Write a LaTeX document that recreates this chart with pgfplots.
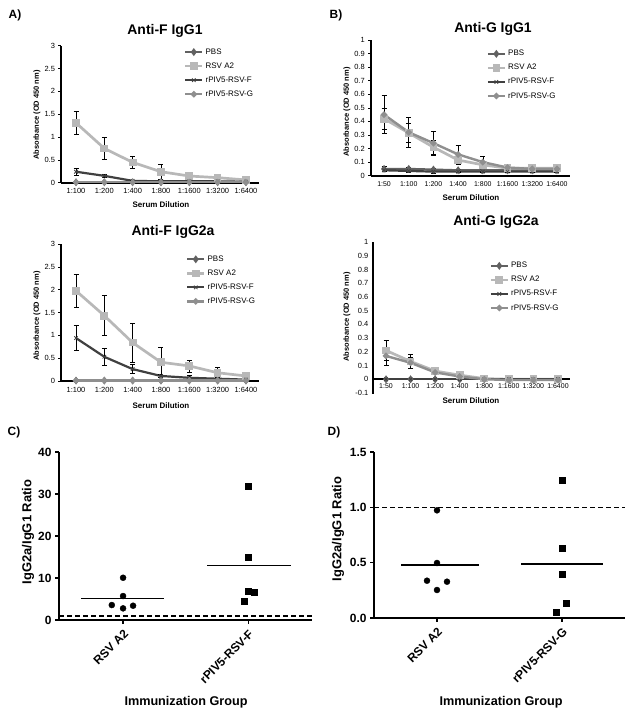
\documentclass[border=0pt]{standalone}
\usepackage{pgfplots}
\pgfplotsset{compat=1.18}
\usepackage{fontspec}
\setmainfont{Liberation Sans}

\definecolor{cPBS}{gray}{0.38}
\definecolor{cRSV}{gray}{0.72}
\definecolor{cF}{gray}{0.25}
\definecolor{cG}{gray}{0.56}

\pgfplotsset{
 elisa/.style={
  scale only axis, axis lines=left, axis line style={-, line width=1.8bp, black},
  xtick={0,...,7}, xtick style={draw=none}, ytick style={black, line width=0.6bp},
  tick align=outside, major tick length=2.5bp,
  tick label style={font=\fontsize{7.5}{8}\selectfont},
  /pgf/number format/assume math mode=true,
  legend style={draw=none, fill=none, font=\fontsize{8}{9}\selectfont, anchor=north west, row sep=3bp, inner sep=0pt},
  legend cell align=left,
  clip=false,
 },
 errs/.style={error bars/y dir=both, error bars/y explicit,
   error bars/error bar style={black, line width=0.6bp},
   error bars/error mark options={black, mark size=2.5bp, line width=0.6bp, rotate=90}},
 sPBS/.style={cPBS, line width=2.2bp, mark=diamond*, mark size=2.2bp, mark options={solid, cPBS}},
 sRSV/.style={cRSV, line width=2.7bp, mark=square*, mark size=2.5bp, mark options={solid, cRSV}},
 sF/.style={cF, line width=2.2bp, mark=x, mark size=2.5bp, mark options={solid, cF, line width=0.8bp}},
 sG/.style={cG, line width=2.4bp, mark=*, mark size=1.8bp, mark options={solid, cG}},
 ratio/.style={
  scale only axis, axis lines=left, axis line style={-, line width=1.6bp, black},
  tick align=outside, major tick length=4bp, tick style={black, line width=1.2bp},
  xtick={1,2},
  xticklabel style={rotate=45, anchor=north east, font=\bfseries\fontsize{12}{13}\selectfont},
  yticklabel style={font=\bfseries\fontsize{12}{13}\selectfont},
  /pgf/number format/assume math mode=true,
  clip=false,
 },
}

\begin{document}
\begin{tikzpicture}
\useasboundingbox (0,0) rectangle (635bp,719bp);

% ---------- Panel A top: Anti-F IgG1 ----------
\begin{axis}[elisa, at={(61bp,536.3bp)}, anchor=south west, width=198bp, height=137bp,
  xmin=-0.53, xmax=6.46, ymin=0, ymax=3, ytick={0,0.5,...,3},
  xticklabels={1:100,1:200,1:400,1:800,1:1600,1:3200,1:6400},
  legend style={at={(0.62,0.995)}}]
\addplot[sPBS] coordinates {(0,0.01)(1,0.01)(2,0.01)(3,0.01)(4,0.01)(5,0.01)(6,0.01)};
\addlegendentry{PBS}
\addplot[sRSV, errs] coordinates {(0,1.31)+-(0,0.25) (1,0.75)+-(0,0.235) (2,0.445)+-(0,0.13) (3,0.24)+-(0,0.16) (4,0.146)+-(0,0.04) (5,0.11)+-(0,0.04) (6,0.06)+-(0,0.03)};
\addlegendentry{RSV A2}
\addplot[sF, errs] coordinates {(0,0.24)+-(0,0.07) (1,0.15)+-(0,0.04) (2,0.04)+-(0,0.02) (3,0.03)+-(0,0.01) (4,0.03)+-(0,0.01) (5,0.03)+-(0,0.01) (6,0.02)+-(0,0.01)};
\addlegendentry{rPIV5-RSV-F}
\addplot[sG] coordinates {(0,0.01)(1,0.01)(2,0.01)(3,0.01)(4,0.01)(5,0.01)(6,0.01)};
\addlegendentry{rPIV5-RSV-G}
\end{axis}

% ---------- Panel A bottom: Anti-F IgG2a ----------
\begin{axis}[elisa, at={(61bp,338bp)}, anchor=south west, width=198bp, height=137bp,
  xmin=-0.53, xmax=6.46, ymin=0, ymax=3, ytick={0,0.5,...,3},
  xticklabels={1:100,1:200,1:400,1:800,1:1600,1:3200,1:6400},
  legend style={at={(0.63,0.93)}}]
\addplot[sPBS] coordinates {(0,0.01)(1,0.01)(2,0.01)(3,0.01)(4,0.01)(5,0.01)(6,0.01)};
\addlegendentry{PBS}
\addplot[sRSV, errs] coordinates {(0,1.975)+-(0,0.37) (1,1.43)+-(0,0.44) (2,0.84)+-(0,0.42) (3,0.41)+-(0,0.32) (4,0.33)+-(0,0.13) (5,0.18)+-(0,0.11) (6,0.11)+-(0,0.03)};
\addlegendentry{RSV A2}
\addplot[sF, errs] coordinates {(0,0.94)+-(0,0.27) (1,0.53)+-(0,0.18) (2,0.26)+-(0,0.10) (3,0.11)+-(0,0.04) (4,0.07)+-(0,0.05) (5,0.05)+-(0,0.02) (6,0.03)+-(0,0.01)};
\addlegendentry{rPIV5-RSV-F}
\addplot[sG] coordinates {(0,0.01)(1,0.01)(2,0.01)(3,0.01)(4,0.01)(5,0.01)(6,0.01)};
\addlegendentry{rPIV5-RSV-G}
\end{axis}

% ---------- Panel B top: Anti-G IgG1 ----------
\begin{axis}[elisa, at={(370.7bp,543.3bp)}, anchor=south west, width=199.3bp, height=135.7bp,
  xmin=-0.54, xmax=7.53, ymin=0, ymax=1, ytick={0,0.1,...,1.01},
  xticklabels={1:50,1:100,1:200,1:400,1:800,1:1600,1:3200,1:6400},
  xticklabel style={font=\fontsize{7}{8}\selectfont},
  legend style={at={(0.58,0.94)}}]
\addplot[sPBS, errs] coordinates {(0,0.05)+-(0,0.02) (1,0.05)+-(0,0.015) (2,0.045)+-(0,0.01) (3,0.04)+-(0,0.01) (4,0.04)+-(0,0.01) (5,0.04)+-(0,0.005) (6,0.04)+-(0,0.005) (7,0.04)+-(0,0.005)};
\addlegendentry{PBS}
\addplot[sRSV, errs] coordinates {(0,0.42)+-(0,0.08) (1,0.315)+-(0,0.07) (2,0.21)+-(0,0.05) (3,0.115)+-(0,0.03) (4,0.08)+-(0,0.02) (5,0.055)+-(0,0.01) (6,0.055)+-(0,0.01) (7,0.055)+-(0,0.01)};
\addlegendentry{RSV A2}
\addplot[sF, errs] coordinates {(0,0.04)+-(0,0.01) (1,0.035)+-(0,0.01) (2,0.03)+-(0,0.01) (3,0.03)+-(0,0.005) (4,0.03)+-(0,0.005) (5,0.03)+-(0,0.005) (6,0.03)+-(0,0.005) (7,0.03)+-(0,0.005)};
\addlegendentry{rPIV5-RSV-F}
\addplot[sG, errs] coordinates {(0,0.45)+-(0,0.14) (1,0.32)+-(0,0.11) (2,0.24)+-(0,0.09) (3,0.157)+-(0,0.065) (4,0.10)+-(0,0.045) (5,0.06)+-(0,0.01) (6,0.05)+-(0,0.01) (7,0.05)+-(0,0.01)};
\addlegendentry{rPIV5-RSV-G}
\end{axis}

% ---------- Panel B bottom: Anti-G IgG2a ----------
\begin{axis}[elisa, axis x line=middle, axis y line=left,
  every inner x axis line/.append style={-}, every outer x axis line/.append style={-},
  every inner y axis line/.append style={-}, every outer y axis line/.append style={-},
  axis line style={-, line width=1.8bp, black},
  at={(373bp,326bp)}, anchor=south west, width=197bp, height=151bp,
  xmin=-0.53, xmax=7.49, ymin=-0.1, ymax=1, ytick={-0.1,0,0.1,...,1.01},
  xticklabels={1:50,1:100,1:200,1:400,1:800,1:1600,1:3200,1:6400},
  xticklabel style={font=\fontsize{7}{8}\selectfont},
  legend style={at={(0.59,0.88)}}]
\addplot[sPBS] coordinates {(0,0)(1,0)(2,0)(3,0)(4,0)(5,0)(6,0)(7,0)};
\addlegendentry{PBS}
\addplot[sRSV, errs] coordinates {(0,0.21)+-(0,0.075) (1,0.13)+-(0,0.05) (2,0.06)+-(0,0.015) (3,0.03)+-(0,0.01) (4,0.005)+-(0,0.005) (5,0)+-(0,0.005) (6,0)+-(0,0.005) (7,0)+-(0,0.005)};
\addlegendentry{RSV A2}
\addplot[sF] coordinates {(0,0)(1,0)(2,0)(3,0)(4,0)(5,0)(6,0)(7,0)};
\addlegendentry{rPIV5-RSV-F}
\addplot[sG, errs] coordinates {(0,0.17)+-(0,0.065) (1,0.12)+-(0,0.04) (2,0.05)+-(0,0.01) (3,0.02)+-(0,0.01) (4,0)+-(0,0.005) (5,-0.005)+-(0,0.005) (6,-0.005)+-(0,0.005) (7,-0.005)+-(0,0.005)};
\addlegendentry{rPIV5-RSV-G}
\end{axis}

% ---------- Panel C ----------
\begin{axis}[ratio, at={(59bp,99bp)}, anchor=south west, width=253bp, height=168bp,
  xmin=0.488, xmax=2.51, ymin=0, ymax=40, ytick={0,10,...,40},
  xticklabels={RSV A2, rPIV5-RSV-F}]
\addplot[black, line width=1.4bp, dash pattern=on 5bp off 3bp] coordinates {(0.488,1) (2.51,1)};
\addplot[black, line width=1.2bp] coordinates {(0.664,5.07) (1.328,5.07)};
\addplot[black, line width=1.2bp] coordinates {(1.672,13.0) (2.344,13.0)};
\addplot[only marks, mark=*, mark size=3bp, black] coordinates {(1,10.06) (1,5.7) (0.91,3.56) (1,2.77) (1.08,3.4)};
\addplot[only marks, mark=square*, mark size=3bp, black] coordinates {(2,31.9) (2,15.0) (2,6.97) (2.05,6.65) (1.97,4.36)};
\end{axis}

% ---------- Panel D ----------
\begin{axis}[ratio, at={(374bp,101bp)}, anchor=south west, width=251bp, height=166bp,
  xmin=0.496, xmax=2.504, ymin=0, ymax=1.5, ytick={0,0.5,1,1.5},
  yticklabel style={/pgf/number format/.cd, fixed, fixed zerofill, precision=1},
  xticklabels={RSV A2, rPIV5-RSV-G}]
\addplot[black, line width=1.4bp, dash pattern=on 5bp off 3bp] coordinates {(0.496,1) (2.504,1)};
\addplot[black, line width=1.2bp] coordinates {(0.712,0.479) (1.336,0.479)};
\addplot[black, line width=1.2bp] coordinates {(1.672,0.488) (2.328,0.488)};
\addplot[only marks, mark=*, mark size=3bp, black] coordinates {(1,0.973) (1,0.497) (0.92,0.337) (1.08,0.328) (1,0.253)};
\addplot[only marks, mark=square*, mark size=3bp, black] coordinates {(2,1.244) (2,0.63) (2,0.398) (2.037,0.13) (1.957,0.05)};
\end{axis}

% ---------- Text ----------
\node[font=\bfseries\fontsize{12}{13}\selectfont] at (15bp,704bp) {A)};
\node[font=\bfseries\fontsize{12}{13}\selectfont] at (336bp,704bp) {B)};
\node[font=\bfseries\fontsize{12}{13}\selectfont] at (14bp,287bp) {C)};
\node[font=\bfseries\fontsize{12}{13}\selectfont] at (334bp,287bp) {D)};

\node[font=\bfseries\fontsize{14}{15}\selectfont] at (165bp,688bp) {Anti-F IgG1};
\node[font=\bfseries\fontsize{14}{15}\selectfont] at (493bp,690bp) {Anti-G IgG1};
\node[font=\bfseries\fontsize{14}{15}\selectfont] at (173bp,487bp) {Anti-F IgG2a};
\node[font=\bfseries\fontsize{14}{15}\selectfont] at (496bp,497bp) {Anti-G IgG2a};

\node[font=\bfseries\fontsize{7.5}{8}\selectfont, rotate=90] at (37bp,604bp) {Absorbance (OD 450 nm)};
\node[font=\bfseries\fontsize{7.5}{8}\selectfont, rotate=90] at (37bp,403bp) {Absorbance (OD 450 nm)};
\node[font=\bfseries\fontsize{7.5}{8}\selectfont, rotate=90] at (347bp,607bp) {Absorbance (OD 450 nm)};
\node[font=\bfseries\fontsize{7.5}{8}\selectfont, rotate=90] at (347bp,402bp) {Absorbance (OD 450 nm)};

\node[font=\bfseries\fontsize{8}{9}\selectfont] at (161bp,514bp) {Serum Dilution};
\node[font=\bfseries\fontsize{8}{9}\selectfont] at (471bp,521bp) {Serum Dilution};
\node[font=\bfseries\fontsize{8}{9}\selectfont] at (161bp,313bp) {Serum Dilution};
\node[font=\bfseries\fontsize{8}{9}\selectfont] at (471bp,318bp) {Serum Dilution};

\node[font=\bfseries\fontsize{13}{14}\selectfont, rotate=90] at (28bp,187bp) {IgG2a/IgG1 Ratio};
\node[font=\bfseries\fontsize{13}{14}\selectfont, rotate=90] at (338bp,190bp) {IgG2a/IgG1 Ratio};
\node[font=\bfseries\fontsize{12.7}{14}\selectfont] at (186bp,17bp) {Immunization Group};
\node[font=\bfseries\fontsize{12.7}{14}\selectfont] at (501bp,17bp) {Immunization Group};
\end{tikzpicture}
\end{document}
